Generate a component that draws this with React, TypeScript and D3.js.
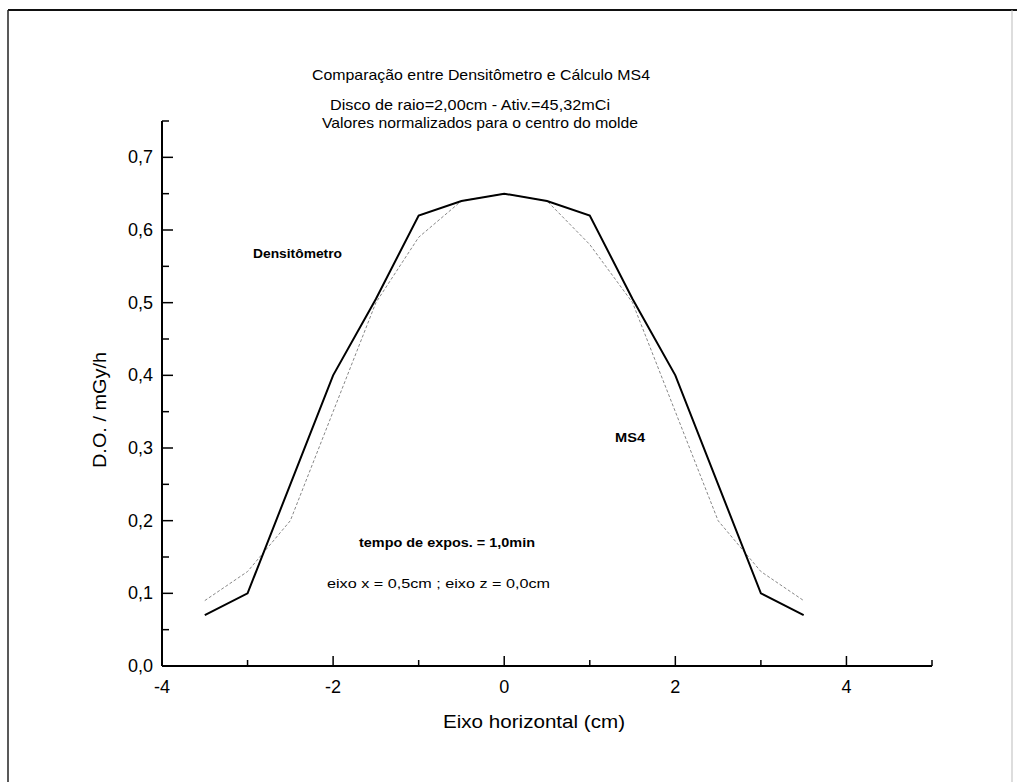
import React from "react";
import * as d3 from "d3";

const xPositions = [-3.5, -3, -2.5, -2, -1.5, -1, -0.5, 0, 0.5, 1, 1.5, 2, 2.5, 3, 3.5];
const solidSeries = [0.07, 0.1, 0.25, 0.4, 0.505, 0.62, 0.64, 0.65, 0.64, 0.62, 0.505, 0.4, 0.25, 0.1, 0.07];
const dottedSeries = [0.09, 0.13, 0.2, 0.35, 0.5, 0.59, 0.64, 0.65, 0.64, 0.58, 0.5, 0.35, 0.2, 0.13, 0.09];
const xMajorTicks = [-4, -2, 0, 2, 4];
const xMajorLabels = ["-4", "-2", "0", "2", "4"];
const xMinorTicks = [-3, -1, 1, 3, 5];
const yMajorTicks = [0, 0.1, 0.2, 0.3, 0.4, 0.5, 0.6, 0.7];
const yMajorLabels = ["0,0", "0,1", "0,2", "0,3", "0,4", "0,5", "0,6", "0,7"];
const yMinorTicks = [0.05, 0.15, 0.25, 0.35, 0.45, 0.55, 0.65, 0.75];
const titleLines = [
  "Comparação entre Densitômetro e Cálculo MS4",
  "Disco de raio=2,00cm - Ativ.=45,32mCi",
  "Valores normalizados para o centro do molde",
];

const FONT = "'Liberation Sans Narrow', 'Liberation Sans', Arial, sans-serif";
const FONT_W = "'Liberation Sans', Arial, sans-serif";

export default function App() {
  const x = d3.scaleLinear().domain([-4, 5]).range([162, 932]);
  const y = d3.scaleLinear().domain([0, 0.75]).range([666, 121]);
  const line = d3
    .line<number>()
    .x((_, i) => x(xPositions[i]))
    .y((d) => y(d));

  return (
    <svg
      width={1017}
      height={782}
      style={{ position: "absolute", left: 0, top: 0, background: "#fff" }}
    >
      <rect x={0} y={0} width={1017} height={782} fill="#fff" />
      {/* frame */}
      <line x1={8} y1={10} x2={1017} y2={10} stroke="#111" strokeWidth={2} />
      <line x1={8} y1={10} x2={8} y2={782} stroke="#222" strokeWidth={1.5} />
      <line x1={1012} y1={10} x2={1012} y2={782} stroke="#bbb" strokeWidth={1} />

      {/* titles */}
      <text x={481} y={80} textAnchor="middle" fontFamily={FONT} fontSize={15} textLength={338} lengthAdjust="spacingAndGlyphs">
        {titleLines[0]}
      </text>
      <text x={470} y={110} textAnchor="middle" fontFamily={FONT} fontSize={15} textLength={280} lengthAdjust="spacingAndGlyphs">
        {titleLines[1]}
      </text>
      <text x={480} y={128} textAnchor="middle" fontFamily={FONT} fontSize={15} textLength={316} lengthAdjust="spacingAndGlyphs">
        {titleLines[2]}
      </text>

      {/* axes */}
      <line x1={x(-4)} y1={y(0)} x2={x(5)} y2={y(0)} stroke="#000" strokeWidth={2} />
      <line x1={x(-4)} y1={y(0)} x2={x(-4)} y2={y(0.75)} stroke="#000" strokeWidth={2} />
      {xMajorTicks.map((t) => (
        <line key={"xM" + t} x1={x(t)} x2={x(t)} y1={y(0)} y2={y(0) - 10} stroke="#000" strokeWidth={1.5} />
      ))}
      {xMinorTicks.map((t) => (
        <line key={"xm" + t} x1={x(t)} x2={x(t)} y1={y(0)} y2={y(0) - 6} stroke="#000" strokeWidth={1.5} />
      ))}
      {xMajorTicks.map((t, i) => (
        <text key={"xl" + t} x={x(t)} y={693} textAnchor="middle" fontFamily={FONT_W} fontSize={18}>
          {xMajorLabels[i]}
        </text>
      ))}
      {yMajorTicks.map((t) => (
        <line key={"yM" + t} x1={x(-4)} x2={x(-4) + 11} y1={y(t)} y2={y(t)} stroke="#000" strokeWidth={1.5} />
      ))}
      {yMinorTicks.map((t) => (
        <line key={"ym" + t} x1={x(-4)} x2={x(-4) + 7} y1={y(t)} y2={y(t)} stroke="#000" strokeWidth={1.5} />
      ))}
      {yMajorTicks.map((t, i) => (
        <text key={"yl" + t} x={153} y={y(t) + 6} textAnchor="end" fontFamily={FONT_W} fontSize={18}>
          {yMajorLabels[i]}
        </text>
      ))}

      {/* axis titles */}
      <text x={443} y={728} fontFamily={FONT_W} fontSize={18} textLength={182} lengthAdjust="spacingAndGlyphs">
        Eixo horizontal  (cm)
      </text>
      <text
        transform="translate(106,410) rotate(-90)"
        textAnchor="middle"
        fontFamily={FONT_W}
        fontSize={18}
        textLength={116}
        lengthAdjust="spacingAndGlyphs"
      >
        D.O. / mGy/h
      </text>

      {/* series */}
      <path d={line(dottedSeries) || ""} fill="none" stroke="#888" strokeWidth={1} strokeDasharray="3,2" />
      <path d={line(solidSeries) || ""} fill="none" stroke="#000" strokeWidth={2} strokeLinejoin="miter" />

      {/* annotations */}
      <text x={253} y={258} fontFamily={FONT} fontSize={13} fontWeight="bold" textLength={89} lengthAdjust="spacingAndGlyphs">
        Densitômetro
      </text>
      <text x={615} y={442} fontFamily={FONT} fontSize={13} fontWeight="bold" textLength={30} lengthAdjust="spacingAndGlyphs">
        MS4
      </text>
      <text x={359} y={547} fontFamily={FONT} fontSize={13} fontWeight="bold" textLength={176} lengthAdjust="spacingAndGlyphs">
        tempo de expos. = 1,0min
      </text>
      <text x={327} y={588} fontFamily={FONT_W} fontSize={13} textLength={223} lengthAdjust="spacingAndGlyphs">
        eixo  x = 0,5cm ;  eixo z = 0,0cm
      </text>
    </svg>
  );
}
